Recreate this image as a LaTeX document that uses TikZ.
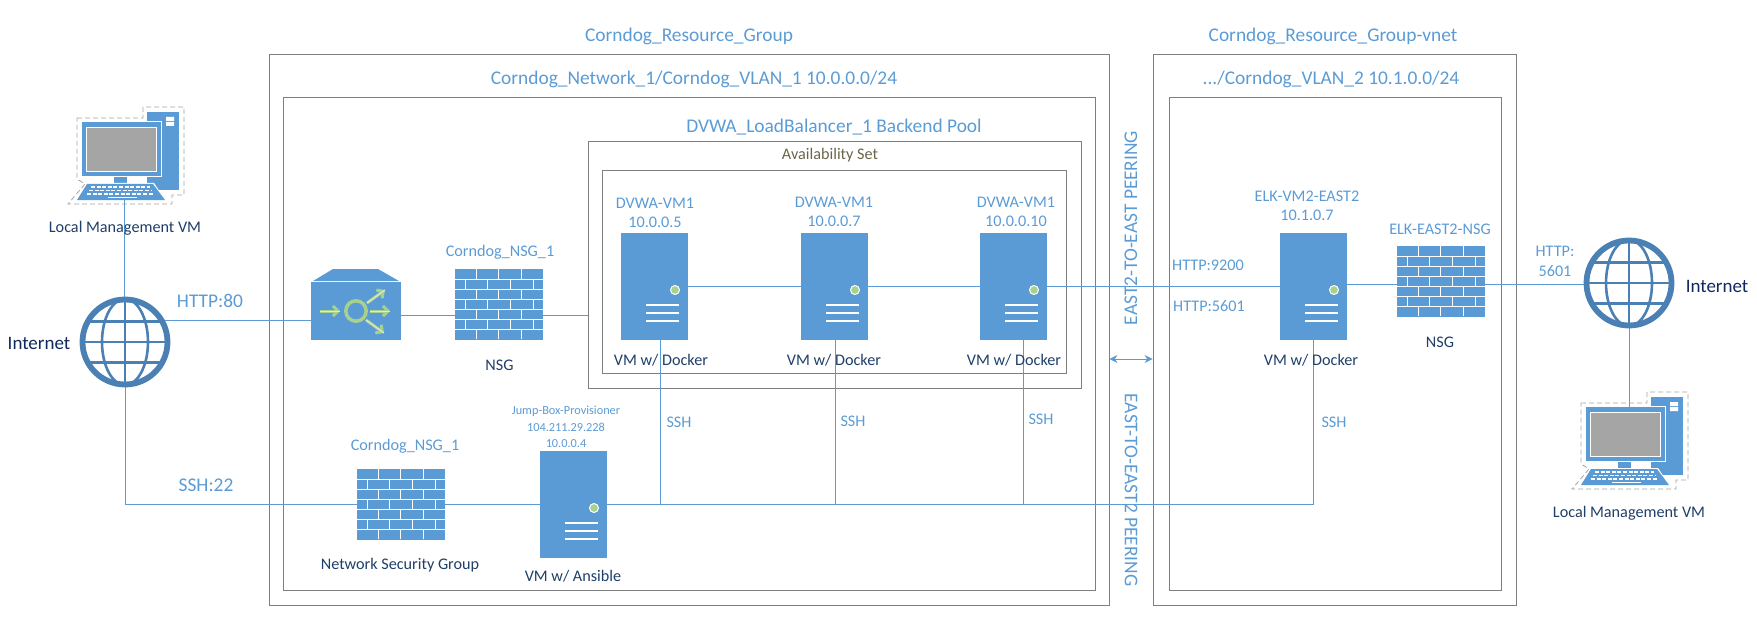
\documentclass[tikz,border=0pt]{standalone}
\usepackage{fontspec}
\setmainfont{Carlito}
\usetikzlibrary{arrows.meta}
\definecolor{azblue}{HTML}{5B9BD5}
\definecolor{azglobe}{HTML}{4A80B3}
\definecolor{azdark}{HTML}{1F3F68}
\definecolor{aznavy}{HTML}{10285E}
\definecolor{azgray}{HTML}{7F7F7F}
\definecolor{azgreen}{HTML}{A9D18E}
\definecolor{azbrown}{HTML}{6B6549}
\definecolor{azscreen}{HTML}{A5A5A5}
\tikzset{
  box/.style={draw=azgray, line width=0.85pt, inner sep=0pt},
  link/.style={draw=azblue, line width=1pt},
  lbl/.style={text=azblue, font=\fontsize{16.2}{19}\selectfont, align=center, inner sep=0pt},
  lblbig/.style={text=azblue, font=\fontsize{19.4}{22}\selectfont, align=center, inner sep=0pt},
  capt/.style={text=azdark, font=\fontsize{16.2}{19}\selectfont, align=center, inner sep=0pt},
  srvbody/.style={fill=azblue, inner sep=0pt, minimum width=67pt, minimum height=107pt},
  wallbody/.style={fill=azblue, inner sep=0pt, minimum width=88pt, minimum height=71pt},
  pics/server/.style={code={
    \node[srvbody] (-body) at (33.5,53.5) {};
    \foreach \y in {72,80,88} \draw[white, line width=2pt] (25,\y) -- (58,\y);
    \fill[azgreen, draw=white, line width=1pt] (54,57) circle (4.5);
  }},
  pics/firewall/.style={code={
    \node[wallbody] (-body) at (44,35.5) {};
    \foreach \y in {10,20,...,60} \draw[white, line width=0.9pt] (0,\y) -- (88,\y);
    \foreach \y in {0,20,40,60} \foreach \x in {21,43,66} \draw[white, line width=0.9pt] (\x,\y) -- (\x,\y+10);
    \foreach \y in {10,30,50} \foreach \x in {10,32,55,78} \draw[white, line width=0.9pt] (\x,\y) -- (\x,\y+10);
  }},
  pics/globe/.style={code={
    \node[circle, draw=azglobe, line width=5.8pt, minimum size=85pt, inner sep=0pt] (-body) at (0,0) {};
    \draw[azglobe, line width=2.6pt] (0,-42) -- (0,42) (-42,0) -- (42,0) (-38,-20.5) -- (38,-20.5) (-38,20.5) -- (38,20.5);
    \draw[azglobe, line width=2.6pt] (0,0) ellipse (23 and 43);
  }},
  pics/computer/.style={code={
    % Dashed outline
    \draw[azgray!70, line width=0.8pt, dash pattern=on 5pt off 3pt] (-5,-4) -- (61,-4) -- (61,-15) -- (102,-15) -- (102,73) -- (90,73) -- (90,82) -- (-14,82) -- (3,62) -- (-5,57) -- cycle;
    % Tower
    \fill[azblue] (65,-10) rectangle (97,68);
    \fill[white] (84,-5) rectangle (92,-1) (84,0) rectangle (92,4);
    % Monitor
    \fill[white] (-1,-1) rectangle (80,55);
    \fill[azblue] (0,0) rectangle (79,54);
    \fill[azscreen, draw=white, line width=0.8pt] (4.5,5) rectangle (74,49);
    \fill[azblue] (32,55) rectangle (45,62);
    % Keyboard
    \fill[white] (4,61) -- (72,61) -- (84,79) -- (-6,79) -- cycle;
    \fill[azblue] (5,62) -- (71,62) -- (83,78) -- (-5,78) -- cycle;
    \foreach \y/\l/\r in {65/9/68, 68.5/7/70, 72/5/72} \draw[white, line width=1.6pt, dash pattern=on 4pt off 1.6pt] (\l,\y) -- (\r,\y);
    \draw[white, line width=1.6pt] (26,75.5) -- (55,75.5);
    \coordinate (-kbd) at (42,78);
    \coordinate (-top) at (43,0);
  }},
}
\begin{document}
\begin{tikzpicture}[>={Stealth[length=8pt,width=8pt]}, x=1pt, y=-1pt]
  \useasboundingbox (0,0) rectangle (1757,623);

  % Boxes
  \node[box, minimum width=840pt, minimum height=551pt] (rgroup) at (689,329.5) {};
  \node[box, minimum width=812pt, minimum height=493pt] (vlana) at (689,343.5) {};
  \node[box, minimum width=493pt, minimum height=247pt] (pool) at (834.5,264.5) {};
  \node[box, minimum width=464pt, minimum height=203pt] (avset) at (834,271.5) {};
  \node[box, minimum width=363pt, minimum height=551pt] (rgvnet) at (1334.5,329.5) {};
  \node[box, minimum width=332pt, minimum height=493pt] (vlanb) at (1335,343.5) {};

  % Icons
  \pic (gla) at (125,342) {globe};
  \pic (glb) at (1629,283) {globe};
  \pic (cma) at (82,122) {computer};
  \pic (cmb) at (1586,407) {computer};
  \pic (fwa) at (455,269) {firewall};
  \pic (fwb) at (357,469) {firewall};
  \pic (fwc) at (1397,246) {firewall};
  \pic (vma) at (621,233) {server};
  \pic (vmb) at (801,233) {server};
  \pic (vmc) at (980,233) {server};
  \pic (elk) at (1280,233) {server};
  \pic (jump) at (540,451) {server};

  % Load balancer
  \node[fill=azblue, inner sep=0pt, minimum width=90pt, minimum height=58pt] (lbal) at (356,311) {};
  \fill[azblue] (313,281) -- (333,269) -- (378,269) -- (399,281) -- cycle;
  \draw[azgreen, line width=3.5pt] (356,311) circle (10.2);
  \foreach \a/\b/\c/\d in {320/311/340/311, 367/303/385/290, 370/311/390/311, 366/320/384/333} {
    \draw[azgreen, line width=3pt, -{Straight Barb[length=5pt,width=10pt]}] (\a,\b) -- (\c,\d);
    \draw[azgreen!40!white, line width=1pt] (\a,\b) -- (\c,\d);
  }

  % Links
  \draw[link] (cma-kbd) -- (gla-body.north -| cma-kbd);
  \draw[link] (gla-body.28) -- (gla-body.28 -| lbal.west);
  \coordinate (lbrow) at (0,315);
  \draw[link] (lbrow -| lbal.east) -- (lbrow -| fwa-body.west);
  \draw[link] (lbrow -| fwa-body.east) -- (lbrow -| pool.west);
  \coordinate (vmrow) at (0,286);
  \draw[link] (vmrow -| vma-body.east) -- (vmrow -| vmb-body.west);
  \draw[link] (vmrow -| vmb-body.east) -- (vmrow -| vmc-body.west);
  \draw[link] (vmrow -| vmc-body.east) -- (vmrow -| elk-body.west);
  \coordinate (nsgrow) at (0,284);
  \draw[link] (nsgrow -| elk-body.east) -- (nsgrow -| fwc-body.west);
  \draw[link] (nsgrow -| fwc-body.east) -- (glb-body.west |- nsgrow);
  \draw[link] (glb-body.south) -- (glb-body.south |- cmb-top);

  % SSH links
  \coordinate (sshrow) at (0,504);
  \draw[link] (gla-body.south) -- (gla-body.south |- sshrow) -- (sshrow -| fwb-body.west);
  \draw[link] (sshrow -| fwb-body.east) -- (sshrow -| jump-body.west);
  \draw[link] (sshrow -| jump-body.east) -- (sshrow -| elk-body.south) -- (elk-body.south);
  \draw[link] ([xshift=6pt]vma-body.south) -- ([xshift=6pt]vma-body.south |- sshrow);
  \draw[link] ([xshift=1pt]vmb-body.south) -- ([xshift=1pt]vmb-body.south |- sshrow);
  \draw[link] ([xshift=9.5pt]vmc-body.south) -- ([xshift=9.5pt]vmc-body.south |- sshrow);

  % Peering
  \coordinate (peer) at (0,359);
  \draw[link, <->] (peer -| rgroup.east) -- (peer -| rgvnet.west);
  \node[lblbig, rotate=90] (peerup) at (1131,228) {EAST2-TO-EAST PEERING};
  \node[lblbig, rotate=-90] (peerdn) at (1131,490) {EAST-TO-EAST2 PEERING};

  % Titles
  \node[lblbig] (trga) at (689,36) {Corndog\_Resource\_Group};
  \node[lblbig] (trgb) at (1333,36) {Corndog\_Resource\_Group-vnet};
  \node[lblbig] (tvla) at (694,79) {Corndog\_Network\_1/Corndog\_VLAN\_1 10.0.0.0/24};
  \node[lblbig] (tvlb) at (1331,79) {.../Corndog\_VLAN\_2 10.1.0.0/24};
  \node[lblbig] (tpool) at (834,127) {DVWA\_LoadBalancer\_1 Backend Pool};
  \node[lbl, text=azbrown] (tavset) at (830,155) {Availability Set};

  % Labels
  \node[lbl] (lvma) at (655,212.5) {DVWA-VM1\\10.0.0.5};
  \node[lbl] (lvmb) at (834,211.5) {DVWA-VM1\\10.0.0.7};
  \node[lbl] (lvmc) at (1016,211.5) {DVWA-VM1\\10.0.0.10};
  \node[lbl] (lelk) at (1307,206) {ELK-VM2-EAST2\\10.1.0.7};
  \node[lbl] (lfwa) at (500,252) {Corndog\_NSG\_1};
  \node[lbl] (lfwb) at (405,446) {Corndog\_NSG\_1};
  \node[lbl] (lfwc) at (1440,229) {ELK-EAST2-NSG};
  \node[lbl, font=\fontsize{12.3}{16.5}\selectfont] (ljump) at (566,427) {Jump-Box-Provisioner\\104.211.29.228\\10.0.0.4};
  \node[lblbig] (lhttp) at (210,301) {HTTP:80};
  \node[lblbig] (lssh) at (206,485) {SSH:22};
  \node[lbl] (lhta) at (1208,265) {HTTP:9200};
  \node[lbl] (lhtb) at (1209,306) {HTTP:5601};
  \node[lbl, font=\fontsize{16.2}{20}\selectfont] (lhtc) at (1555,261) {HTTP:\\5601};
  \node[lbl] (lssa) at (679,422) {SSH};
  \node[lbl] (lssb) at (853,421) {SSH};
  \node[lbl] (lssc) at (1041,419) {SSH};
  \node[lbl] (lssd) at (1334,422) {SSH};

  % Captions
  \node[capt] (cvma) at (661,360) {VM w/ Docker};
  \node[capt] (cvmb) at (834,360) {VM w/ Docker};
  \node[capt] (cvmc) at (1014,360) {VM w/ Docker};
  \node[capt] (celk) at (1311,360) {VM w/ Docker};
  \node[capt] (cjump) at (573,576) {VM w/ Ansible};
  \node[capt] (cfwa) at (499.5,365) {NSG};
  \node[capt] (cfwb) at (400,565) {Network Security Group};
  \node[capt] (cfwc) at (1440,342) {NSG};
  \node[capt] (ccma) at (125,228) {Local Management VM};
  \node[capt] (ccmb) at (1629,513) {Local Management VM};
  \node[capt, text=aznavy, font=\fontsize{19}{22}\selectfont] (inta) at (39,343) {Internet};
  \node[capt, text=aznavy, font=\fontsize{19}{22}\selectfont] (intb) at (1717,286) {Internet};
\end{tikzpicture}
\end{document}
